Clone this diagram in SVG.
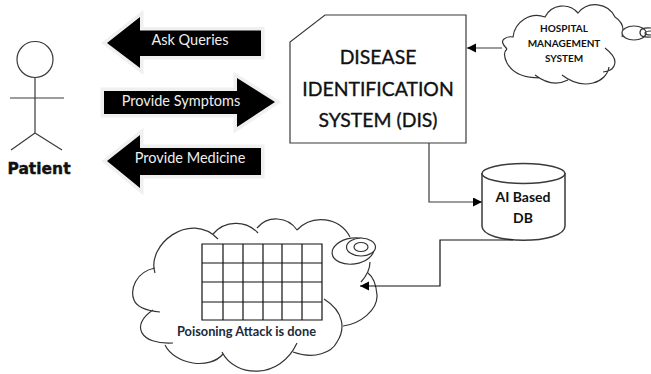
<svg xmlns="http://www.w3.org/2000/svg" width="651" height="374" viewBox="0 0 651 374">
<style>
.s{fill:none;stroke:#3a3a3a;stroke-width:1.2}
.k{fill:none;stroke:#111;stroke-width:1.2}
.g{fill:none;stroke:#333;stroke-width:1.2}
.a{fill:#000;stroke:#f0f0f0;stroke-width:7;paint-order:stroke}
.w{fill:#eee;font:14.500px Lato,"Liberation Sans",sans-serif;text-anchor:middle}
.t{font-family:Lato,"Liberation Sans",sans-serif;fill:#111;text-anchor:middle}
.b{font-weight:700}
.d{font-size:19.400px;stroke:#111;stroke-width:.35}
</style>
<defs><marker id="h" markerUnits="userSpaceOnUse" markerWidth="10" markerHeight="10" refX="9" refY="4.500" orient="auto"><path d="M0 0L9 4.500L0 9z" fill="#000"/></marker></defs>
<rect width="651" height="374" fill="#fff"/>
<g id="patient">
<circle cx="35" cy="59.500" r="18" class="s"/>
<path class="s" d="M35 78V133M10 98H64M35 133L11 150M35 133L62 150"/>
<text x="39" y="174" class="t b" style="font:700 15.500px 'DejaVu Sans',sans-serif;stroke:#111;stroke-width:.4">Patient</text>
</g>
<g id="ask-queries">
<path class="a" d="M261 30.500H140V17L107 43L140 68V56H261z"/>
<text x="190" y="45" class="w">Ask Queries</text>
</g>
<g id="provide-symptoms">
<path class="a" d="M104 91H237V78L275 102L237 127V114H104z"/>
<text x="181" y="106" class="w">Provide Symptoms</text>
</g>
<g id="provide-medicine">
<path class="a" d="M261 148H140V135L107 161L140 188V175H261z"/>
<text x="190" y="163" class="w">Provide Medicine</text>
</g>
<g id="dis">
<path class="s" d="M325 15H466V143H290V42z" style="fill:#fff"/>
<text class="t d" x="378" y="64">DISEASE</text>
<text class="t d" x="378" y="96">IDENTIFICATION</text>
<text class="t d" x="378" y="127">SYSTEM (DIS)</text>
</g>
<g id="hospital">
<path class="g" d="M507 49Q500 42 504 39Q508 36 513 37A24 24 0 0 1 545 17A20 20 0 0 1 578 13A22 22 0 0 1 615 17Q626 24 622 37"/>
<path class="g" d="M605 48Q618 58 614 66Q612 71 603 72M609 67C607 82 584 92 562 75M568 80Q552 88 535 75M540 78Q515 78 507 63Q502 53 507 49"/>
<ellipse cx="634" cy="33" rx="12" ry="7" class="g" style="fill:#fff"/>
<path class="g" d="M651 28Q640 27 640 32.500Q640 38 651 37M651 31Q645 31 645 33Q645 35 651 35"/>
<text class="t b" x="564" y="32" font-size="10">HOSPITAL</text>
<text class="t b" x="564" y="47" font-size="10">MANAGEMENT</text>
<text class="t b" x="564" y="62" font-size="10">SYSTEM</text>
</g>
<g id="db">
<path class="s" d="M482 173V226C482 245 565 245 565 226V173" style="stroke-width:1.500;fill:#fff"/>
<ellipse cx="523.500" cy="173.500" rx="41.500" ry="10" class="s" style="stroke-width:1.500;fill:#fff"/>
<text class="t b" x="523" y="202" font-size="14">AI Based</text>
<text class="t b" x="523" y="223" font-size="14">DB</text>
</g>
<g id="attack-cloud">
<path class="g" d="M155 273C146 245 190 210 218 239M213 234A30 30 0 0 1 258 233M257 228A25 25 0 0 1 297 230M297 230A33 33 0 0 1 350 237"/>
<path class="g" d="M155 268C135 272 130 290 134 300Q138 310 160 312M153 310C130 325 140 345 173 343M165 345C175 365 210 370 223 354M222 352C235 378 280 380 297 343M293 352C315 360 332 352 337 342C345 330 345 312 324 299M343 326C360 324 378 310 377 295C376 283 372 276 368 273M370 262Q370 272 361 282"/>
<ellipse cx="353" cy="251" rx="21" ry="13" transform="rotate(-8 353 251)" class="g" style="fill:#fff"/>
<ellipse cx="361" cy="247" rx="14.500" ry="9" class="g" style="fill:#fff"/>
<ellipse cx="361" cy="247" rx="7" ry="4.500" class="g"/>
<path class="k" d="M202 244H322V320H202zM223 244V320M243 244V320M263 244V320M282 244V320M302 244V320M202 263H322M202 282H322M202 302H322"/>
<text class="t b" x="246.500" y="336" font-size="12.800" style="fill:#1b2a3a">Poisoning Attack is done</text>
</g>
<g id="connectors">
<path class="s" d="M502 48H467" marker-end="url(#h)"/>
<path class="s" d="M429 143V202H482" marker-end="url(#h)"/>
<path class="k" d="M513 240H440V286H360" marker-end="url(#h)"/>
</g>
</svg>
